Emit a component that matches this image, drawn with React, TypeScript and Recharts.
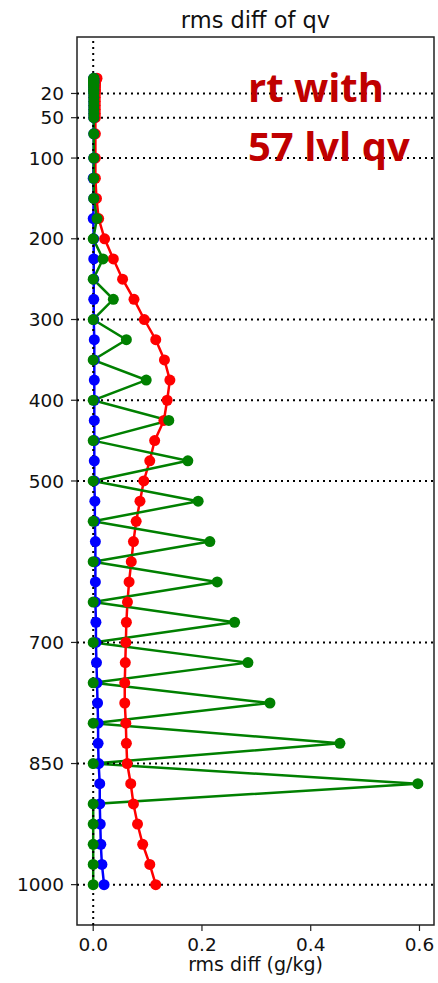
import React from 'react';
import { ComposedChart, Line, XAxis, YAxis, ReferenceLine, ReferenceArea } from 'recharts';

const levels = [
  1, 2, 3, 4, 5, 6, 7, 8, 10, 12, 15, 17, 20, 25, 30, 35, 40, 45, 50, 70,
  100, 125, 150, 175, 200, 225, 250, 275, 300, 325, 350, 375, 400, 425, 450, 475, 500,
  525, 550, 575, 600, 625, 650, 675, 700, 725, 750, 775, 800, 825, 850, 875, 900, 925, 950, 975, 1000,
];

const redVals = [
  0.007, 0.006, 0.005, 0.005, 0.004, 0.004, 0.004, 0.004, 0.004, 0.004, 0.004, 0.004, 0.004, 0.004, 0.004, 0.004, 0.004, 0.004, 0.004, 0.004,
  0.004, 0.004, 0.006, 0.010, 0.021, 0.037, 0.054, 0.075, 0.094, 0.115, 0.131, 0.141, 0.136, 0.130, 0.113, 0.104, 0.093,
  0.086, 0.079, 0.074, 0.070, 0.066, 0.063, 0.061, 0.060, 0.059, 0.058, 0.058, 0.060, 0.061, 0.0625, 0.069, 0.074, 0.0815, 0.091, 0.104, 0.115,
];

const blueVals = [
  0.001, 0.001, 0.001, 0.001, 0.001, 0.001, 0.001, 0.001, 0.001, 0.001, 0.001, 0.001, 0.001, 0.001, 0.001, 0.001, 0.001, 0.001, 0.001, 0.001,
  0.001, 0.0, 0.001, 0.0, 0.001, 0.001, 0.001, 0.001, 0.001, 0.002, 0.002, 0.002, 0.002, 0.002, 0.002, 0.002, 0.002,
  0.003, 0.003, 0.004, 0.004, 0.004, 0.004, 0.005, 0.005, 0.006, 0.007, 0.008, 0.009, 0.009, 0.010, 0.012, 0.012, 0.013, 0.014, 0.016, 0.020,
];

const greenVals = [
  0.001, 0.001, 0.001, 0.001, 0.001, 0.001, 0.001, 0.001, 0.001, 0.001, 0.001, 0.001, 0.001, 0.001, 0.001, 0.001, 0.001, 0.001, 0.001, 0.001,
  0.001, 0.001, 0.001, 0.007, 0.0, 0.018, 0.0, 0.037, 0.0, 0.061, 0.0, 0.0975, 0.0, 0.139, 0.0, 0.174, 0.0,
  0.193, 0.0, 0.2145, 0.0, 0.228, 0.0, 0.26, 0.0, 0.2845, 0.0, 0.325, 0.0, 0.4537, 0.0, 0.597, 0.0, 0.0, 0.0, 0.0, 0.0,
];

const yTicks = [20, 50, 100, 200, 300, 400, 500, 700, 850, 1000];
const xTicks = [0, 0.2, 0.4, 0.6];
const xDomain = [-0.0298, 0.6267];
const yDomain = [-49.95, 1050];

const data = levels.map((p, i) => ({ p, red: redVals[i], blue: blueVals[i], green: greenVals[i] }));

const FONT = '"DejaVu Sans", sans-serif';

export default function App() {
  return (
    <div style={{ position: 'absolute', left: 0, top: 0, width: 438, height: 983, background: '#fff' }}>
      <ComposedChart
        width={438}
        height={983}
        data={data}
        layout="vertical"
        margin={{ top: 37, right: 4, bottom: 0, left: 0 }}
      >
        <XAxis
          type="number"
          domain={xDomain}
          allowDataOverflow
          ticks={xTicks}
          tickFormatter={(v: number) => v.toFixed(1)}
          height={58}
          tickSize={6}
          tickMargin={7}
          axisLine={false}
          tickLine={{ stroke: '#222', strokeWidth: 1.2 }}
          tick={{ fontFamily: FONT, fontSize: 18.5, fill: '#111' }}
          interval={0}
        />
        <YAxis
          type="number"
          dataKey="p"
          domain={yDomain}
          allowDataOverflow
          ticks={yTicks}
          width={77}
          tickSize={6}
          tickMargin={7}
          axisLine={false}
          tickLine={{ stroke: '#222', strokeWidth: 1.2 }}
          tick={{ fontFamily: FONT, fontSize: 18.5, fill: '#111' }}
          interval={0}
        />
        <ReferenceArea
          x1={xDomain[0]}
          x2={xDomain[1]}
          y1={yDomain[0]}
          y2={yDomain[1]}
          fill="none"
          fillOpacity={0}
          stroke="#222"
          strokeWidth={1.5}
          ifOverflow="visible"
        />
        <Line dataKey="red" stroke="#ff0000" strokeWidth={2.5} dot={{ r: 5.5, fill: '#ff0000', stroke: 'none' }} isAnimationActive={false} />
        <Line dataKey="blue" stroke="#0000ff" strokeWidth={2.5} dot={{ r: 5.5, fill: '#0000ff', stroke: 'none' }} isAnimationActive={false} />
        <Line dataKey="green" stroke="#008000" strokeWidth={2.5} dot={{ r: 5.5, fill: '#008000', stroke: 'none' }} isAnimationActive={false} />
        {yTicks.map((t) => (
          <ReferenceLine key={t} y={t} stroke="#000" strokeWidth={2} strokeDasharray="2 4" />
        ))}
        <ReferenceLine x={0} stroke="#000" strokeWidth={2} strokeDasharray="2 4" />
      </ComposedChart>
      <div style={{ position: 'absolute', left: 77, width: 357, top: 9, textAlign: 'center', fontFamily: FONT, fontSize: 22.5, lineHeight: '22.5px', color: '#111' }}>
        rms diff of qv
      </div>
      <div style={{ position: 'absolute', left: 77, width: 357, top: 955, textAlign: 'center', fontFamily: FONT, fontSize: 19, lineHeight: '19px', color: '#111' }}>
        rms diff (g/kg)
      </div>
      <div style={{ position: 'absolute', left: 248, top: 57, fontFamily: '"Open Sans", sans-serif', fontWeight: 700, fontSize: 40, lineHeight: '59px', color: '#c00000', whiteSpace: 'pre' }}>
        {'rt with\n57 lvl qv'}
      </div>
    </div>
  );
}
